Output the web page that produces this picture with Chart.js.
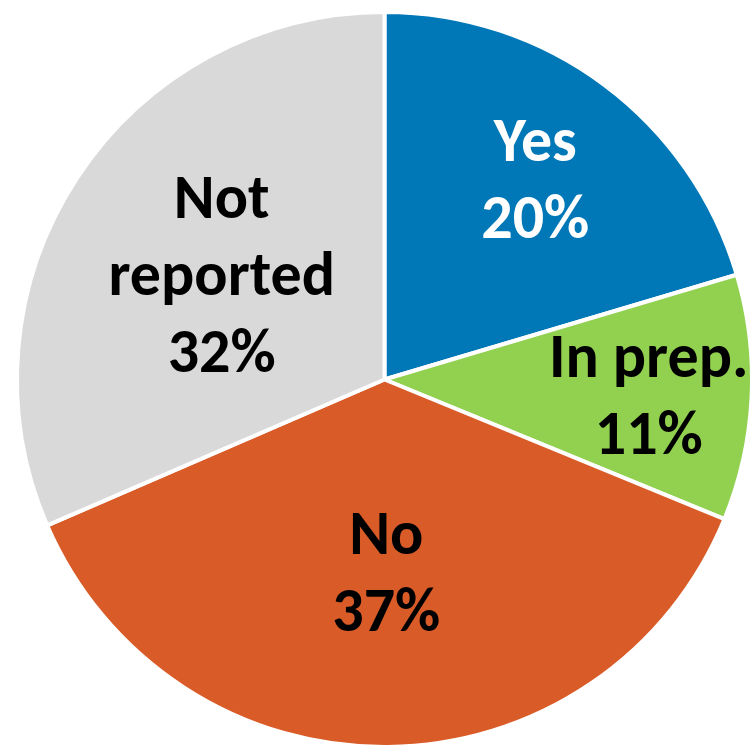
<!DOCTYPE html>
<html lang="en">
<head>
    <meta charset="UTF-8">
    <title>Pie Chart</title>
    <script src="https://cdn.jsdelivr.net/npm/chart.js"></script>
    <style>
        body { margin: 0; background: #fff; }
        #wrap { width: 754px; height: 749px; position: relative; }
    </style>
</head>
<body>
    <div id="wrap"><canvas id="pieChart"></canvas></div>
    <script>
        // data (shares in %, labels show the rounded value)
        const labels = ['Yes', 'In prep.', 'No', 'Not reported'];
        const labelLines = [['Yes'], ['In prep.'], ['No'], ['Not', 'reported']];
        const values = [20.4, 10.8, 37.3, 31.5];
        const colors = ['#0077B6', '#92D050', '#D95B27', '#D9D9D9'];
        const textColors = ['#ffffff', '#000000', '#000000', '#000000'];

        // how far out along the radius each label sits
        const labelRadius = [0.686, 0.72, 0.518, 0.53];

        const sliceLabels = {
            id: 'sliceLabels',
            afterDatasetsDraw(chart) {
                const ctx = chart.ctx;
                const meta = chart.getDatasetMeta(0);
                const total = values.reduce((a, b) => a + b, 0);
                const size = 62;
                const lh = 77;
                ctx.save();
                ctx.font = 'bold ' + size + 'px Carlito, Lato, sans-serif';
                ctx.textAlign = 'center';
                ctx.textBaseline = 'alphabetic';
                meta.data.forEach((arc, i) => {
                    const p = arc.getProps(['x', 'y', 'startAngle', 'endAngle', 'outerRadius']);
                    const mid = (p.startAngle + p.endAngle) / 2;
                    const r = p.outerRadius * labelRadius[i];
                    const cx = p.x + Math.cos(mid) * r;
                    const cy = p.y + Math.sin(mid) * r;
                    const lines = labelLines[i].concat([Math.round(values[i] / total * 100) + '%']);
                    const top = cy - (lines.length - 1) * lh / 2 + size * 0.36;
                    ctx.fillStyle = textColors[i];
                    lines.forEach((t, k) => ctx.fillText(t, cx, top + k * lh));
                });
                ctx.restore();
            }
        };

        new Chart(document.getElementById('pieChart'), {
            type: 'pie',
            data: {
                labels: labels,
                datasets: [{
                    data: values,
                    backgroundColor: colors,
                    borderColor: '#ffffff',
                    borderWidth: 4
                }]
            },
            options: {
                responsive: true,
                maintainAspectRatio: false,
                animation: false,
                layout: { padding: { left: 15, top: 10, right: 0, bottom: 0 } },
                plugins: {
                    legend: { display: false },
                    tooltip: { enabled: false }
                }
            },
            plugins: [sliceLabels]
        });
    </script>
</body>
</html>
